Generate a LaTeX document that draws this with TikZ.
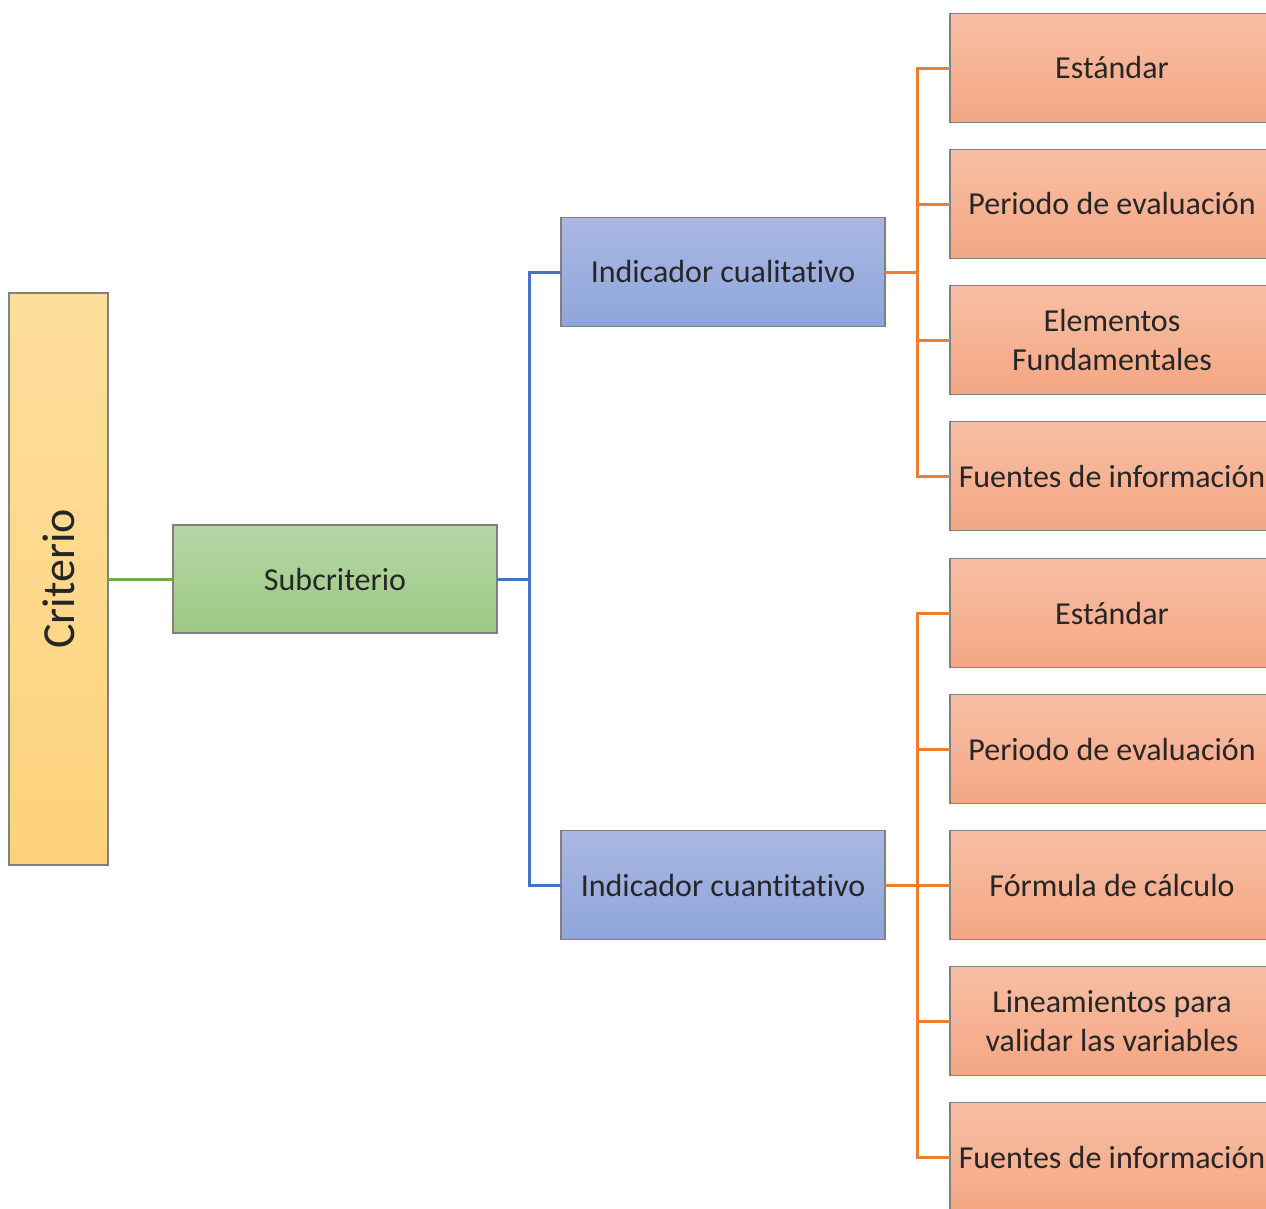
\documentclass[tikz,border=0pt]{standalone}
\usepackage{fontspec}
\setmainfont{Carlito}[Ligatures=NoCommon]
\usepackage{graphicx}
\usetikzlibrary{positioning}
\definecolor{critTop}{RGB}{255,222,156}
\definecolor{critBot}{RGB}{254,210,124}
\definecolor{subTop}{RGB}{182,214,167}
\definecolor{subBot}{RGB}{156,201,131}
\definecolor{indTop}{RGB}{170,184,227}
\definecolor{indBot}{RGB}{142,165,219}
\definecolor{leafTop}{RGB}{247,191,165}
\definecolor{leafBot}{RGB}{245,166,131}
\definecolor{lineGreen}{RGB}{112,173,71}
\definecolor{lineBlue}{RGB}{68,114,196}
\definecolor{lineOrange}{RGB}{237,125,49}
\tikzset{
  box/.style={draw=black!50, line width=1.3pt, text=black!85, outer sep=0pt,
    font=\fontsize{32}{39}\selectfont, align=center, inner sep=0pt},
  critbox/.style={box, top color=critTop, bottom color=critBot,
    minimum width=99pt, minimum height=572pt},
  subbox/.style={box, top color=subTop, bottom color=subBot,
    minimum width=324pt, minimum height=108pt},
  indbox/.style={box, top color=indTop, bottom color=indBot,
    minimum width=324pt, minimum height=109pt},
  leafbox/.style={box, top color=leafTop, bottom color=leafBot,
    minimum width=324pt, minimum height=109pt},
  link/.style={line width=3pt},
}
\begin{document}
\begin{tikzpicture}
  \useasboundingbox (0,0) rectangle (1266pt,-1208pt);
  \clip (0,0) rectangle (1266pt,-1208pt);
  % Define nodes
  \node[critbox] (crit) at (58.5pt,-579pt)
    {\rotatebox{90}{\fontsize{46}{50}\selectfont Criterio}};
  \node[subbox, right=65pt of crit] (sub) {Subcriterio};
  \node[indbox, right=64pt of sub, yshift=307pt] (qual) {Indicador cualitativo};
  \node[indbox, right=64pt of sub, yshift=-306pt] (quan) {Indicador cuantitativo};
  \node[leafbox, right=65pt of qual, yshift=204pt] (q1) {Estándar};
  \node[leafbox, below=27pt of q1] (q2) {Periodo de evaluación};
  \node[leafbox, below=27pt of q2] (q3) {Elementos\\Fundamentales};
  \node[leafbox, below=27pt of q3] (q4) {Fuentes de información};
  \node[leafbox, right=65pt of quan] (c3) {Fórmula de cálculo};
  \node[leafbox, above=27pt of c3] (c2) {Periodo de evaluación};
  \node[leafbox, above=27pt of c2] (c1) {Estándar};
  \node[leafbox, below=27pt of c3] (c4) {Lineamientos para\\validar las variables};
  \node[leafbox, below=27pt of c4] (c5) {Fuentes de información};
  \coordinate (bjoin) at ([xshift=32pt]sub.east);
  \coordinate (qjoin) at ([xshift=32pt]qual.east);
  \coordinate (cjoin) at ([xshift=32pt]quan.east);
  % Connect nodes
  \draw[link, lineGreen] (crit) -- (sub);
  \draw[link, lineBlue] (sub.east) -- (bjoin);
  \draw[link, lineBlue] (bjoin) |- (qual.west);
  \draw[link, lineBlue] (bjoin) |- (quan.west);
  \draw[link, lineOrange] (qual.east) -- (qjoin);
  \foreach \n in {q1,q2,q3,q4}
    \draw[link, lineOrange] (qjoin) |- (\n.west);
  \draw[link, lineOrange] (quan.east) -- (cjoin);
  \foreach \n in {c1,c2,c3,c4,c5}
    \draw[link, lineOrange] (cjoin) |- (\n.west);
\end{tikzpicture}
\end{document}
